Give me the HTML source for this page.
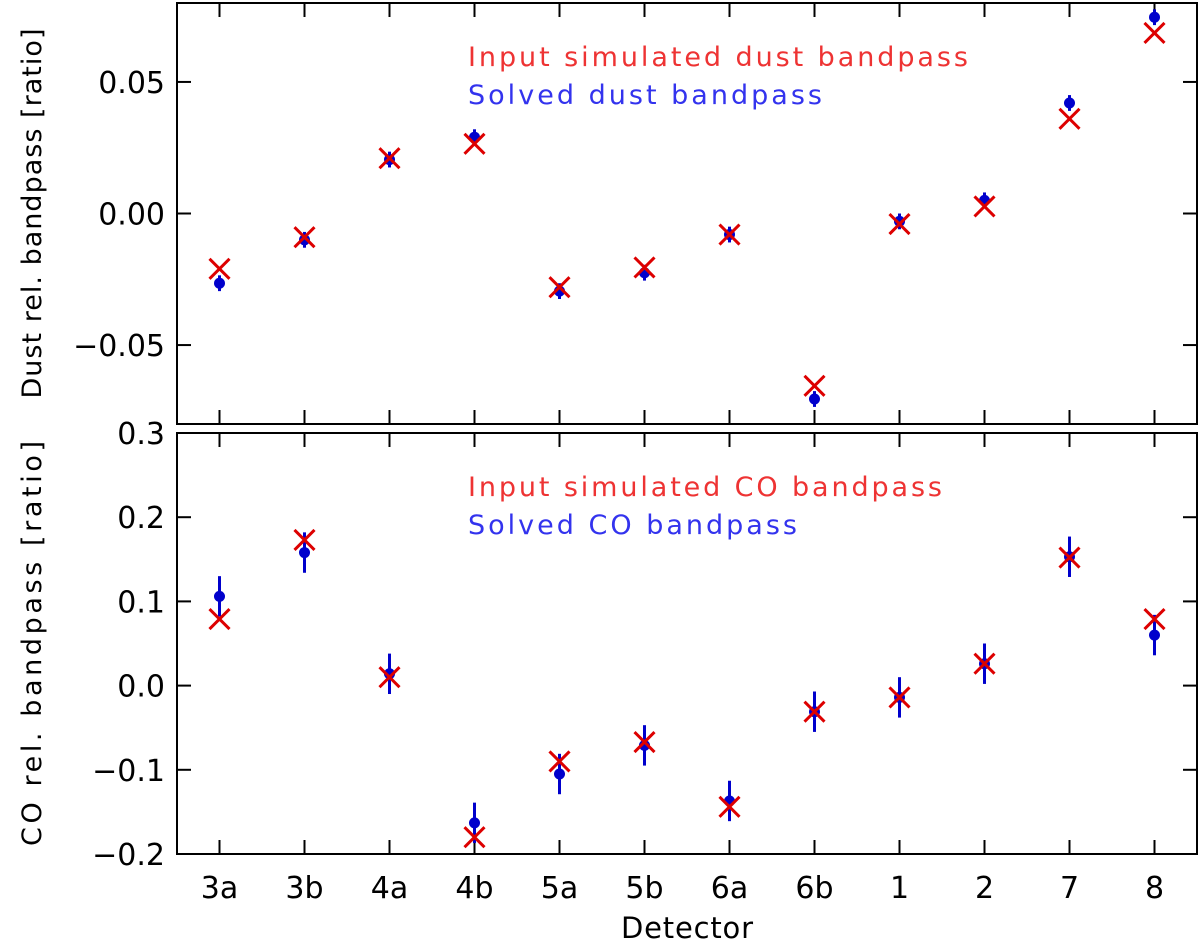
<!DOCTYPE html>
<html><head><meta charset="utf-8"><style>
body{margin:0;background:#fff}
svg text{font-family:"DejaVu Sans","Liberation Sans",sans-serif}
</style></head><body>
<svg id="c" width="1200" height="944" xmlns="http://www.w3.org/2000/svg"></svg>
<script>
const categories=["3a","3b","4a","4b","5a","5b","6a","6b","1","2","7","8"];
const dustInput=[-0.021,-0.009,0.021,0.0265,-0.028,-0.0205,-0.008,-0.0655,-0.004,0.0027,0.036,0.0686];
const dustSolved=[-0.0265,-0.010,0.0205,0.029,-0.0295,-0.0225,-0.008,-0.0705,-0.003,0.005,0.042,0.0746];
const dustErr=[0.003,0.003,0.003,0.003,0.003,0.003,0.003,0.003,0.003,0.003,0.003,0.003];
const coInput=[0.079,0.173,0.010,-0.180,-0.090,-0.067,-0.144,-0.031,-0.014,0.026,0.152,0.079];
const coSolved=[0.106,0.158,0.014,-0.163,-0.105,-0.071,-0.137,-0.031,-0.014,0.026,0.153,0.060];
const coErr=[0.024,0.024,0.024,0.024,0.024,0.024,0.024,0.024,0.024,0.024,0.024,0.024];
const dustTicks=[-0.05,0,0.05];
const dustTickLabels=["\u22120.05","0.00","0.05"];
const coTicks=[-0.2,-0.1,0,0.1,0.2,0.3];
const coTickLabels=["\u22120.2","\u22120.1","0.0","0.1","0.2","0.3"];
const svg=document.getElementById('c');
const NS="http://www.w3.org/2000/svg";
function mk(t,a,p){const e=document.createElementNS(NS,t);for(const k in a)e.setAttribute(k,a[k]);(p||svg).appendChild(e);return e;}
const X0=177,X1=1197;
const xs=i=>X0+(i+0.5)*(X1-X0)/categories.length;
function panel(name,y0,y1,vmin,vmax,ticks,labels,inp,sol,err,ytitle,ytLen,leg1,len1,leg2,len2,legX,legY){
  const g=mk('g',{});
  
  
  const ys=v=>y1-(v-vmin)/(vmax-vmin)*(y1-y0);
  const r=mk('rect',{x:X0,y:y0,width:X1-X0,height:y1-y0,fill:'none',stroke:'#000','stroke-width':2},g);
  
  
  categories.forEach((c,i)=>{const x=xs(i);
    mk('line',{x1:x,x2:x,y1:y0,y2:y0+14,stroke:'#000','stroke-width':2},g);
    mk('line',{x1:x,x2:x,y1:y1,y2:y1-14,stroke:'#000','stroke-width':2},g);});
  ticks.forEach((t,i)=>{const y=ys(t);
    mk('line',{x1:X0,x2:X0+14,y1:y,y2:y,stroke:'#000','stroke-width':2},g);
    mk('line',{x1:X1,x2:X1-14,y1:y,y2:y,stroke:'#000','stroke-width':2},g);
    const tx=mk('text',{x:X0-12,y:y+11,'text-anchor':'end','font-size':30,fill:'#000'},g);
    tx.textContent=labels[i];
    
    });
  const yt=mk('text',{x:0,y:0,'text-anchor':'middle','font-size':27,textLength:ytLen,lengthAdjust:'spacing',transform:`translate(41,${(y0+y1)/2}) rotate(-90)`},g);
  yt.textContent=ytitle;
  
  
  categories.forEach((c,i)=>{const x=xs(i);
    const ye=ys(sol[i]);
    const eb=mk('line',{x1:x,x2:x,y1:ys(sol[i]+err[i]),y2:ys(sol[i]-err[i]),stroke:'#0000cc','stroke-width':3},g);
    
    
    const d=mk('circle',{cx:x,cy:ye,r:5.5,fill:'#0000cc'},g);
    
    
    const yi=ys(inp[i]),s=10;
    const p=mk('path',{d:`M${x-s},${yi-s}L${x+s},${yi+s}M${x-s},${yi+s}L${x+s},${yi-s}`,stroke:'#dd0000','stroke-width':3,fill:'none'},g);
    
    });
  const l1=mk('text',{x:legX,y:legY,'font-size':27,fill:'#ee3333',textLength:len1,lengthAdjust:'spacing'},g);l1.textContent=leg1;
  
  
  const l2=mk('text',{x:legX,y:legY+38,'font-size':27,fill:'#3333ee',textLength:len2,lengthAdjust:'spacing'},g);l2.textContent=leg2;
  
  
}
panel('dust-panel',3,424,-0.08,0.08,dustTicks,dustTickLabels,dustInput,dustSolved,dustErr,'Dust rel. bandpass [ratio]',370,'Input simulated dust bandpass',500,'Solved dust bandpass',354,468,66);
panel('co-panel',433,854,-0.2,0.3,coTicks,coTickLabels,coInput,coSolved,coErr,'CO rel. bandpass [ratio]',405,'Input simulated CO bandpass',474,'Solved CO bandpass',329,468,496);
categories.forEach((c,i)=>{
  const t=mk('text',{x:xs(i),y:898,'text-anchor':'middle','font-size':30});
  t.textContent=c;
  
  });
const xt=mk('text',{x:687,y:938,'text-anchor':'middle','font-size':29,textLength:132,lengthAdjust:'spacing'});
xt.textContent='Detector';


</script>
</body></html>
